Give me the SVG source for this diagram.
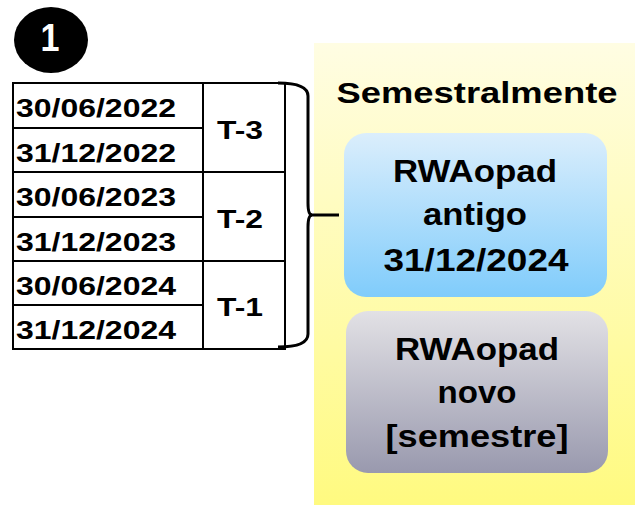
<svg xmlns="http://www.w3.org/2000/svg" width="637" height="512" viewBox="0 0 637 512">
<defs>
<linearGradient id="gy" x1="0" y1="0" x2="0" y2="1"><stop offset="0" stop-color="#fffde3"/><stop offset="1" stop-color="#fffa80"/></linearGradient>
<linearGradient id="gb" x1="0" y1="0" x2="0" y2="1"><stop offset="0" stop-color="#dbeefc"/><stop offset="1" stop-color="#80ccfb"/></linearGradient>
<linearGradient id="gg" x1="0" y1="0" x2="0" y2="1"><stop offset="0" stop-color="#e2e1e5"/><stop offset="1" stop-color="#9999ae"/></linearGradient>
<style>
.cell{fill:#fff;stroke:#000;stroke-width:2}
.d{font-family:"Liberation Sans",Arial,sans-serif;font-weight:bold;font-size:26px;fill:#000}
.t{font-family:"Liberation Sans",Arial,sans-serif;font-weight:bold;font-size:25px;fill:#000;text-anchor:middle}
.r{font-family:"Liberation Sans",Arial,sans-serif;font-weight:bold;font-size:31px;fill:#000;text-anchor:middle}
.line{fill:none;stroke:#000;stroke-width:3}
</style>
</defs>
<rect width="637" height="512" fill="#fff"/>
<g id="badge">
<ellipse cx="51" cy="40" rx="37" ry="33" fill="#000"/>
<text x="50" y="51" font-family="Liberation Sans,Arial,sans-serif" font-weight="bold" font-size="38" fill="#fff" text-anchor="middle" textLength="19" lengthAdjust="spacingAndGlyphs">1</text>
</g>
<g id="table">
<rect class="cell" x="13" y="83" width="190" height="45"/>
<rect class="cell" x="13" y="128" width="190" height="44"/>
<rect class="cell" x="13" y="172" width="190" height="45"/>
<rect class="cell" x="13" y="217" width="190" height="44"/>
<rect class="cell" x="13" y="261" width="190" height="44"/>
<rect class="cell" x="13" y="305" width="190" height="44"/>
<rect class="cell" x="203" y="83" width="82" height="89"/>
<rect class="cell" x="203" y="172" width="82" height="89"/>
<rect class="cell" x="203" y="261" width="82" height="88"/>
<text class="d" x="16" y="117" textLength="160" lengthAdjust="spacingAndGlyphs">30/06/2022</text>
<text class="d" x="16" y="162" textLength="160" lengthAdjust="spacingAndGlyphs">31/12/2022</text>
<text class="d" x="16" y="206" textLength="160" lengthAdjust="spacingAndGlyphs">30/06/2023</text>
<text class="d" x="16" y="251" textLength="160" lengthAdjust="spacingAndGlyphs">31/12/2023</text>
<text class="d" x="16" y="295" textLength="160" lengthAdjust="spacingAndGlyphs">30/06/2024</text>
<text class="d" x="16" y="339" textLength="160" lengthAdjust="spacingAndGlyphs">31/12/2024</text>
<text class="t" x="240" y="139" textLength="46" lengthAdjust="spacingAndGlyphs">T-3</text>
<text class="t" x="240" y="228" textLength="46" lengthAdjust="spacingAndGlyphs">T-2</text>
<text class="t" x="240" y="316" textLength="46" lengthAdjust="spacingAndGlyphs">T-1</text>
</g>
<g id="panel">
<rect x="314" y="43" width="321" height="462" fill="url(#gy)"/>
<text x="477" y="103" font-family="Liberation Sans,Arial,sans-serif" font-weight="bold" font-size="30" text-anchor="middle" textLength="281" lengthAdjust="spacingAndGlyphs">Semestralmente</text>
</g>
<g id="old">
<rect x="344" y="133" width="263" height="164" rx="22" fill="url(#gb)"/>
<text class="r" x="475" y="182" textLength="164" lengthAdjust="spacingAndGlyphs">RWAopad</text>
<text class="r" x="475" y="225" textLength="104" lengthAdjust="spacingAndGlyphs">antigo</text>
<text class="r" x="476" y="271" textLength="185" lengthAdjust="spacingAndGlyphs">31/12/2024</text>
</g>
<g id="new">
<rect x="346" y="311" width="262" height="162" rx="22" fill="url(#gg)"/>
<text class="r" x="477" y="360" textLength="164" lengthAdjust="spacingAndGlyphs">RWAopad</text>
<text class="r" x="477" y="403" textLength="79" lengthAdjust="spacingAndGlyphs">novo</text>
<text class="r" x="477" y="447" textLength="183" lengthAdjust="spacingAndGlyphs">[semestre]</text>
</g>
<g id="connectors">
<path class="line" d="M278 83 Q308 83 308 96 L308 203 Q308 215 312 215 Q308 215 308 227 L308 334 Q308 347 278 347"/>
<line class="line" x1="310" y1="215" x2="339" y2="215"/>
</g>
</svg>
